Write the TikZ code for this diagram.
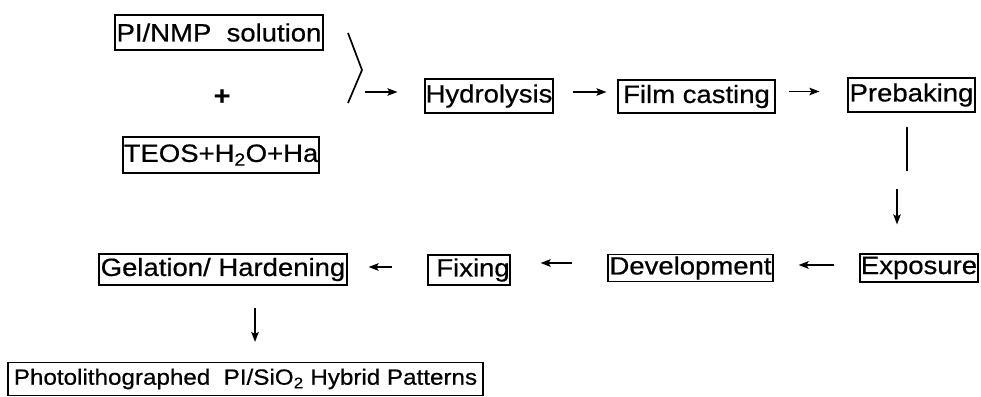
\documentclass[tikz,border=0pt]{standalone}
\usepackage{fontspec}
\setmainfont{Liberation Sans}[FakeStretch=1.1,FakeBold=0.6]
\usetikzlibrary{arrows.meta}

\tikzset{
  stepbox/.style={draw, line width=1.1pt, inner sep=0pt,
    font=\fontsize{25pt}{30pt}\selectfont},
  conn/.style={line width=1.7pt, -{Stealth[length=10pt,width=7.5pt,inset=2pt]}},
  plain/.style={line width=1.7pt, line cap=round},
}

\begin{document}
\begin{tikzpicture}[x=1pt,y=-1pt]
\useasboundingbox (0,0) rectangle (981,396);

% starting materials
\node[stepbox, minimum width=208pt, minimum height=35pt] (pi)   at (219,32.5) {\makebox[0pt]{PI/NMP\ \ solution}};
\node[font=\fontsize{26pt}{30pt}\selectfont\bfseries] (plus) at (222,97) {+};
\node[stepbox, minimum width=196pt, minimum height=36pt] (teos) at (221,155) {\makebox[0pt]{TEOS+H\textsubscript{2}O+Ha}};

% first row of steps
\node[stepbox, minimum width=128pt, minimum height=34pt] (hyd)  at (489,96)   {\makebox[0pt]{Hydrolysis}};
\node[stepbox, minimum width=157pt, minimum height=33pt] (film) at (696.5,96.5) {\makebox[0pt]{Film casting}};
\node[stepbox, minimum width=127pt, minimum height=34pt] (preb) at (911.5,95) {\makebox[0pt]{Prebaking}};

% second row of steps
\node[stepbox, minimum width=118pt, minimum height=28pt] (expo) at (919,268)   {\makebox[0pt]{Exposure}};
\node[stepbox, minimum width=165pt, minimum height=27pt] (dev)  at (690.5,268) {\makebox[0pt]{Development}};
\node[stepbox, minimum width=82pt,  minimum height=30pt] (fix)  at (469,270)   {\makebox[0pt]{\hspace{8pt}Fixing}};
\node[stepbox, minimum width=248pt, minimum height=31pt] (gel)  at (223,269.5) {\makebox[0pt]{Gelation/ Hardening}};

% product
\node[stepbox, minimum width=475pt, minimum height=33pt,
      font=\fontsize{22pt}{26pt}\selectfont] (prod) at (245.5,379) {\makebox[0pt]{Photolithographed\ \ PI/SiO\textsubscript{2} Hybrid Patterns}};

% brace joining the two solutions
\coordinate (btop) at (348,33);
\coordinate (btip) at (362,70);
\coordinate (bbot) at (348,103);
\draw[plain, line cap=butt] (btop) -- (btip) -- (bbot);
\coordinate (brk) at (365,92);
\draw[conn, shorten >=27pt] (brk) -- (brk -| hyd.west);

% first row arrows
\draw[conn, shorten <=19pt, shorten >=11pt] ([yshift=4pt]hyd.east) -- ([yshift=4pt]hyd.east -| film.west);
\draw[conn, shorten <=13pt, shorten >=28pt] ([yshift=5pt]film.east) -- ([yshift=5pt]film.east -| preb.west);

% turn down to the second row
\draw[plain] ([xshift=-4.5pt,yshift=-15pt]preb.south) -- ++(0,43);
\draw[conn] ([xshift=-22pt]expo.north) ++(0,-64) -- ++(0,35);

% second row arrows
\draw[conn, shorten <=25pt, shorten >=25pt] ([yshift=3pt]expo.west) -- ([yshift=3pt]expo.west -| dev.east);
\draw[conn, shorten <=35pt, shorten >=30pt] ([yshift=5pt]dev.west) -- ([yshift=5pt]dev.west -| fix.east);
\draw[conn, shorten <=35pt, shorten >=21pt] ([yshift=3pt]fix.west) -- ([yshift=3pt]fix.west -| gel.east);

% down to the product
\draw[conn, shorten <=22pt, shorten >=20pt] ([xshift=32pt]gel.south) -- ([xshift=32pt]gel.south |- prod.north);
\end{tikzpicture}
\end{document}
